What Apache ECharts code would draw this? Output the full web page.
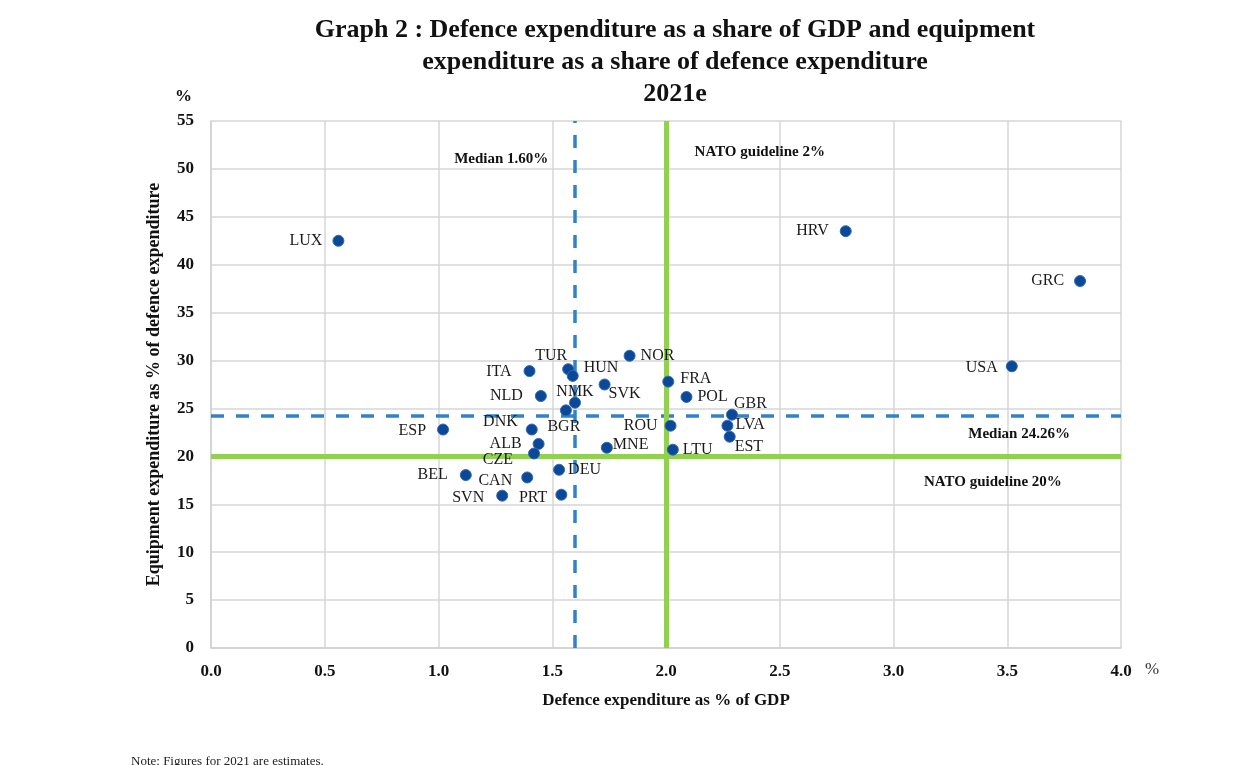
<!DOCTYPE html>
<html>
<head>
<meta charset="utf-8">
<script src="https://cdn.jsdelivr.net/npm/echarts@6/dist/echarts.min.js"></script>
<style>html,body{margin:0;padding:0;background:#fff}#c{width:1259px;height:765px}</style>
</head>
<body>
<div id="c"></div>
<script>
// ---- data ----
var countries = ['LUX','HRV','GRC','USA','NOR','ITA','TUR','HUN','SVK','FRA','NLD','POL','NMK','BGR','GBR','DNK','ESP','ROU','LVA','EST','ALB','CZE','MNE','LTU','DEU','BEL','CAN','SVN','PRT'];
var gdpShare = [0.56,2.79,3.82,3.52,1.84,1.40,1.57,1.59,1.73,2.01,1.45,2.09,1.60,1.56,2.29,1.41,1.02,2.02,2.27,2.28,1.44,1.42,1.74,2.03,1.53,1.12,1.39,1.28,1.54];
var equipShare = [42.5,43.5,38.3,29.4,30.5,28.9,29.1,28.4,27.5,27.8,26.3,26.2,25.6,24.8,24.35,22.8,22.8,23.2,23.2,22.05,21.3,20.3,20.9,20.7,18.6,18.05,17.8,15.9,16.0];
var medianGdp = 1.60, medianEquip = 24.26;
var natoGdp = 2, natoEquip = 20;
var xTicks = {min:0, max:4, interval:0.5};
var yTicks = {min:0, max:55, interval:5};
var notes = [
  [1.276, 51.0, 'Median 1.60%'],
  [2.412, 51.8, 'NATO guideline 2%'],
  [3.552, 22.3, 'Median 24.26%'],
  [3.437, 17.3, 'NATO guideline 20%']
];

// ---- label styling (per country) ----
var labelPos = {
  LUX:['left',[-5,0]], HRV:['left',[-6,0]], GRC:['left',[-5,0]], USA:['left',[-3,2]],
  NOR:['right',[0,0]], ITA:['left',[-7,1]], TUR:['top',[-17,6]], HUN:['right',[0,-8]],
  SVK:['right',[-7,9]], FRA:['right',[1,-3]], NLD:['left',[-7,0]], POL:['right',[0,0]],
  NMK:['top',[0,8]], BGR:['bottom',[-2,-3]], GBR:['right',[-9,-11]], DNK:['left',[-3,-8]],
  ESP:['left',[-6,1]], ROU:['left',[-2,0]], LVA:['right',[-3,-1]], EST:['right',[-6,10]],
  ALB:['left',[-6,0]], CZE:['left',[-10,6]], MNE:['right',[-5,-3]], LTU:['right',[-1,0]],
  DEU:['right',[-2,0]], BEL:['left',[-7,0]], CAN:['left',[-4,3]], SVN:['left',[-7,2]], PRT:['left',[-3,3]]
};

var serif = '"Liberation Serif","DejaVu Serif",serif';
var points = countries.map(function(c,i){
  var lp = labelPos[c];
  return {value:[gdpShare[i], equipShare[i]], name:c,
    label:{show:true, formatter:c, position:lp[0], offset:lp[1], distance:5}};
});

var chart = echarts.init(document.getElementById('c'));
chart.setOption({
  animation:false,
  backgroundColor:'#fff',
  title:{
    text:'Graph 2 : Defence expenditure as a share of GDP and equipment\nexpenditure as a share of defence expenditure\n2021e',
    left:670, top:9, textAlign:'center',
    textStyle:{fontFamily:serif, fontSize:26, fontWeight:'bold', color:'#111', lineHeight:32}
  },
  grid:{left:211, right:138, top:121, bottom:117},
  xAxis:{
    type:'value', min:xTicks.min, max:xTicks.max, interval:xTicks.interval,
    name:'Defence expenditure as % of GDP', nameLocation:'middle', nameGap:44,
    nameTextStyle:{fontFamily:serif, fontSize:17, fontWeight:'bold', color:'#111'},
    axisLine:{show:true, lineStyle:{color:'#d0d0d0', width:1.5}},
    axisTick:{show:false},
    axisLabel:{formatter:function(v){return v.toFixed(1);}, margin:15, fontFamily:serif, fontSize:17, fontWeight:'bold', color:'#111'},
    splitLine:{show:true, lineStyle:{color:'#d6d6d6', width:1.5}}
  },
  yAxis:{
    type:'value', min:yTicks.min, max:yTicks.max, interval:yTicks.interval,
    name:'Equipment expenditure as % of defence expenditure', nameLocation:'middle', nameGap:48,
    nameTextStyle:{fontFamily:serif, fontSize:18, fontWeight:'bold', color:'#111'},
    axisLine:{show:true, lineStyle:{color:'#d0d0d0', width:1.5}},
    axisTick:{show:false},
    axisLabel:{margin:17, fontFamily:serif, fontSize:17, fontWeight:'bold', color:'#111'},
    splitLine:{show:true, lineStyle:{color:'#d6d6d6', width:1.5}}
  },
  graphic:[
    {type:'text', left:175, top:88, style:{text:'%', font:'bold 17px '+serif, fill:'#111'}},
    {type:'text', left:1145, top:661, style:{text:'%', font:'17px '+serif, fill:'#333'}},
    {type:'text', left:131, top:755, style:{text:'Note: Figures for 2021 are estimates.', font:'13px '+serif, fill:'#222'}}
  ],
  series:[
    {
      type:'scatter', data:[], z:2, silent:true,
      markLine:{
        silent:true, symbol:'none', label:{show:false},
        data:[
          {xAxis:medianGdp, lineStyle:{color:'#3182c8', width:3.5, type:[13,12], opacity:1}},
          {yAxis:medianEquip, lineStyle:{color:'#3182c8', width:3.5, type:[13,12], opacity:1}},
          {xAxis:natoGdp, lineStyle:{color:'#92d050', width:5, type:'solid', opacity:1}},
          {yAxis:natoEquip, lineStyle:{color:'#92d050', width:5, type:'solid', opacity:1}}
        ]
      }
    },
    {
      type:'scatter', z:5, symbolSize:11,
      itemStyle:{color:'#0b4898', borderColor:'#2f69b3', borderWidth:1, opacity:1},
      label:{fontFamily:serif, fontSize:16, color:'#1a1a1a', opacity:1},
      data:points
    },
    {
      type:'scatter', z:6, symbolSize:0, itemStyle:{opacity:1},
      label:{show:true, position:'inside', fontFamily:serif, fontSize:15, fontWeight:'bold', color:'#111', opacity:1,
        formatter:function(p){return p.data[2];}},
      data:notes
    }
  ]
});
</script>
</body>
</html>
